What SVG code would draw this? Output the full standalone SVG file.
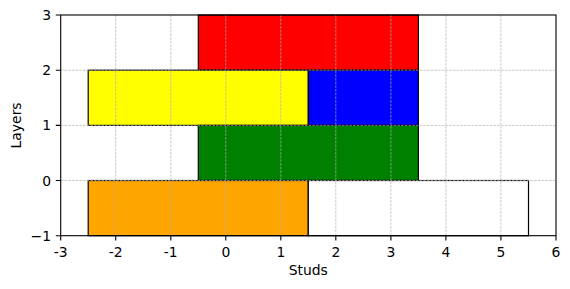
<svg xmlns="http://www.w3.org/2000/svg" width="570" height="289" viewBox="0 0 570 289">
<style>
.brick{stroke:#000;stroke-width:1.2}
.grid{stroke:#b0b0b0;stroke-width:0.7;stroke-dasharray:2.6,1.1;fill:none}
.spine{stroke:#000;stroke-width:1.1;fill:none}
.tick{stroke:#000;stroke-width:1.1}
text{font-family:"DejaVu Sans",sans-serif;font-size:13.9px;fill:#000}
.xt{text-anchor:middle}
.yt{text-anchor:end}
</style>
<rect width="570" height="289" fill="#fff"/>
<g id="bricks">
<g id="red"><rect class="brick" x="198.3" y="15" width="220.1" height="55.2" fill="#ff0000"/></g>
<g id="yellow"><rect class="brick" x="88.2" y="70.2" width="220.1" height="55.2" fill="#ffff00"/></g>
<g id="blue"><rect class="brick" x="308.3" y="70.2" width="110.1" height="55.2" fill="#0000ff"/></g>
<g id="green"><rect class="brick" x="198.3" y="125.4" width="220.1" height="55.1" fill="#008000"/></g>
<g id="orange"><rect class="brick" x="88.2" y="180.5" width="220.1" height="55.2" fill="#ffa500"/></g>
<g id="white"><rect class="brick" x="308.3" y="180.5" width="220.2" height="55.2" fill="#ffffff"/></g>
</g>
<g id="grid">
<path class="grid" d="M115.7,15V235.7M170.8,15V235.7M225.8,15V235.7M280.8,15V235.7M335.8,15V235.7M390.9,15V235.7M445.9,15V235.7M500.9,15V235.7M60.7,70.2H556M60.7,125.4H556M60.7,180.5H556"/>
</g>
<g id="axes">
<rect class="spine" x="60.7" y="15" width="495.3" height="220.7"/>
<path class="tick" d="M60.7,235.7v4.9M115.7,235.7v4.9M170.8,235.7v4.9M225.8,235.7v4.9M280.8,235.7v4.9M335.8,235.7v4.9M390.9,235.7v4.9M445.9,235.7v4.9M500.9,235.7v4.9M556,235.7v4.9M60.7,15h-4.9M60.7,70.2h-4.9M60.7,125.4h-4.9M60.7,180.5h-4.9M60.7,235.7h-4.9"/>
<text class="xt" x="60.7" y="257">-3</text>
<text class="xt" x="115.7" y="257">-2</text>
<text class="xt" x="170.8" y="257">-1</text>
<text class="xt" x="225.8" y="257">0</text>
<text class="xt" x="280.8" y="257">1</text>
<text class="xt" x="335.8" y="257">2</text>
<text class="xt" x="390.9" y="257">3</text>
<text class="xt" x="445.9" y="257">4</text>
<text class="xt" x="500.9" y="257">5</text>
<text class="xt" x="556" y="257">6</text>
<text class="yt" x="51" y="20">3</text>
<text class="yt" x="51" y="75.2">2</text>
<text class="yt" x="51" y="130.4">1</text>
<text class="yt" x="51" y="185.5">0</text>
<text class="yt" x="51" y="240.7">−1</text>
<text class="xt" x="308.3" y="275">Studs</text>
<text class="xt" transform="translate(21,125.4) rotate(-90)">Layers</text>
</g>
</svg>
